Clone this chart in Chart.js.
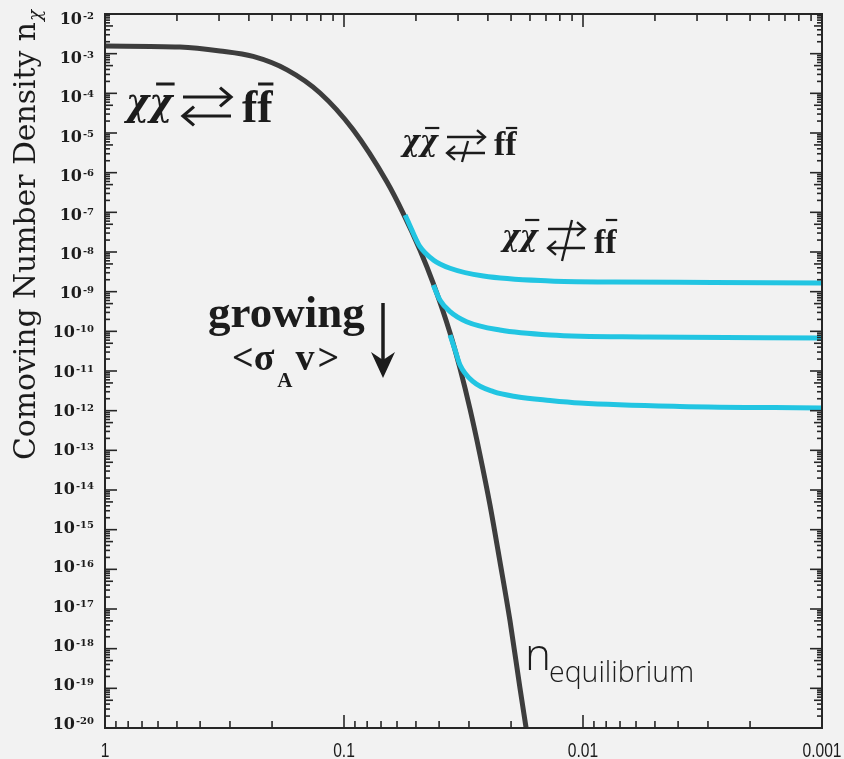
<!DOCTYPE html>
<html>
<head>
<meta charset="utf-8">
<script src="https://cdn.jsdelivr.net/npm/chart.js@4/dist/chart.umd.min.js"></script>
<style>
  html, body { margin: 0; padding: 0; background: #f2f2f2; }
  #wrap { width: 844px; height: 759px; }
</style>
</head>
<body>
<div id="wrap"><canvas id="c" width="844" height="759"></canvas></div>
<script>
// Horizontal axis: T/m, from 1 (left) down to 0.001 (right)
const xTickValues = [1, 0.1, 0.01, 0.001];
const xTickLabels = ['1', '0.1', '0.01', '0.001'];
// Vertical axis decades: 10^-2 ... 10^-20
const yExponents = [-2, -3, -4, -5, -6, -7, -8, -9, -10, -11, -12, -13, -14, -15, -16, -17, -18, -19, -20];

// Equilibrium number density
const eqX = [1.0, 0.486, 0.330, 0.240, 0.173, 0.126, 0.0917, 0.0661, 0.0566, 0.0481, 0.0424, 0.0360, 0.0327, 0.0297, 0.0270, 0.0245, 0.0223, 0.0202, 0.0184, 0.0173];
const eqY = [1.56e-3, 1.47e-3, 1.17e-3, 8.5e-4, 3.9e-4, 1.02e-4, 1.22e-5, 5.8e-7, 9.6e-8, 1.12e-8, 1.66e-9, 9.1e-11, 1.16e-11, 1.10e-12, 7.9e-14, 4.2e-15, 1.67e-16, 5.0e-18, 1.12e-19, 1.0e-20];

// Freeze-out curves for three annihilation cross sections
const fo1X = [0.0555, 0.0513, 0.0481, 0.0423, 0.0360, 0.0261, 0.01374, 0.00749, 0.00286, 0.001];
const fo1Y = [8.6e-8, 2.97e-8, 1.36e-8, 6.3e-9, 3.89e-9, 2.48e-9, 1.86e-9, 1.75e-9, 1.71e-9, 1.66e-9];
const fo2X = [0.0423, 0.0397, 0.0360, 0.0307, 0.0223, 0.01374, 0.0054, 0.001];
const fo2Y = [1.48e-9, 6.17e-10, 3.13e-10, 1.75e-10, 1.08e-10, 8.1e-11, 7.2e-11, 6.8e-11];
const fo3X = [0.0360, 0.0343, 0.0327, 0.0288, 0.0237, 0.01894, 0.01374, 0.0103, 0.00393, 0.001];
const fo3Y = [8.1e-11, 3.39e-11, 1.42e-11, 5.38e-12, 3.01e-12, 2.25e-12, 1.81e-12, 1.56e-12, 1.28e-12, 1.17e-12];

const INK = '#1c1c1c';
const CURVE = '#3d3d3d';
const CYAN = '#22c5e2';

const pts = (xs, ys) => xs.map((x, i) => ({ x: x, y: ys[i] }));

function seg(ctx, x1, y1, x2, y2) {
  ctx.beginPath(); ctx.moveTo(x1, y1); ctx.lineTo(x2, y2); ctx.stroke();
}

// χχ̄ ⇄ ff̄ with optional strike-through of one or both arrows
function reaction(ctx, o) {
  ctx.save();
  ctx.fillStyle = INK; ctx.strokeStyle = INK;
  ctx.textAlign = 'left'; ctx.textBaseline = 'alphabetic';
  ctx.font = 'italic bold ' + o.chiSize + 'px "DejaVu Serif"';
  const cw = ctx.measureText('χ').width * o.squeeze;
  ctx.save();
  ctx.translate(o.chiX, o.chiBase);
  ctx.scale(o.squeeze, 1);
  ctx.fillText('χ', 0, 0);
  ctx.fillText('χ', cw / o.squeeze, 0);
  ctx.restore();
  ctx.lineWidth = o.barW;
  seg(ctx, o.chiX + cw + cw * 0.3, o.barY, o.chiX + 2 * cw + cw * 0.1, o.barY);
  // arrows
  ctx.lineWidth = o.lw; ctx.lineCap = 'butt'; ctx.lineJoin = 'miter';
  seg(ctx, o.ax1, o.ayTop, o.ax2 - 1, o.ayTop);
  ctx.beginPath(); ctx.moveTo(o.ax2 - o.head, o.ayTop - o.head * 0.85); ctx.lineTo(o.ax2, o.ayTop); ctx.lineTo(o.ax2 - o.head, o.ayTop + o.head * 0.85); ctx.stroke();
  seg(ctx, o.ax1 + 1, o.ayBot, o.ax2, o.ayBot);
  ctx.beginPath(); ctx.moveTo(o.ax1 + o.head, o.ayBot - o.head * 0.85); ctx.lineTo(o.ax1, o.ayBot); ctx.lineTo(o.ax1 + o.head, o.ayBot + o.head * 0.85); ctx.stroke();
  if (o.cross) { seg(ctx, o.cross[0], o.cross[1], o.cross[2], o.cross[3]); }
  // f f̄
  ctx.font = 'bold ' + o.fSize + 'px "Liberation Serif"';
  const fw = ctx.measureText('f').width;
  ctx.fillText('ff', o.fX, o.fBase);
  ctx.lineWidth = o.barW;
  seg(ctx, o.fX + fw * 1.05, o.barY, o.fX + fw * 2.05, o.barY);
  ctx.restore();
}

const paper = {
  id: 'paper',
  beforeDraw(chart) {
    const ctx = chart.ctx;
    ctx.save();
    ctx.fillStyle = '#f2f2f2';
    ctx.fillRect(0, 0, chart.width, chart.height);
    ctx.restore();
  },
  afterDraw(chart) {
    const ctx = chart.ctx;
    const a = chart.chartArea;
    const xs = chart.scales.x, ys = chart.scales.y;
    ctx.save();
    ctx.strokeStyle = '#262626';
    ctx.fillStyle = INK;

    // frame
    ctx.lineWidth = 2;
    ctx.strokeRect(a.left, a.top, a.right - a.left, a.bottom - a.top);

    // bottom ticks: standard decade subdivisions
    ctx.lineWidth = 1.6;
    for (let n = 0; n >= -3; n--) {
      const base = Math.pow(10, n);
      const px = xs.getPixelForValue(base);
      seg(ctx, px, a.bottom, px, a.bottom - 13);
      if (n > -3) {
        for (let k = 2; k <= 9; k++) {
          const p = xs.getPixelForValue(k * base / 10);
          seg(ctx, p, a.bottom, p, a.bottom - 7);
        }
      }
    }
    // top ticks: reciprocal subdivisions 1/k of each decade
    for (let n = 0; n >= -3; n--) {
      const base = Math.pow(10, n);
      const px = xs.getPixelForValue(base);
      seg(ctx, px, a.top, px, a.top + 13);
      if (n > -3) {
        for (let k = 2; k <= 9; k++) {
          const p = xs.getPixelForValue(base / k);
          seg(ctx, p, a.top, p, a.top + 7);
        }
      }
    }
    // left and right ticks
    yExponents.forEach((e) => {
      const base = Math.pow(10, e);
      const py = ys.getPixelForValue(base);
      seg(ctx, a.left, py, a.left + 12, py);
      seg(ctx, a.right, py, a.right - 12, py);
      if (e > -20) {
        for (let k = 2; k <= 9; k++) {
          const p = ys.getPixelForValue(k * base / 10);
          const len = k === 5 ? 8 : 5;
          seg(ctx, a.left, p, a.left + len, p);
          seg(ctx, a.right, p, a.right - len, p);
        }
      }
    });

    // y tick labels 10^e
    ctx.textBaseline = 'alphabetic';
    yExponents.forEach((e, i) => {
      const py = ys.getPixelForValue(Math.pow(10, e)) + 4 - 9 * i / (yExponents.length - 1);
      ctx.font = 'bold 10px "DejaVu Serif"';
      const sup = '-' + Math.abs(e);
      const w2 = ctx.measureText(sup).width;
      ctx.font = 'bold 16px "DejaVu Serif"';
      const w1 = ctx.measureText('10').width;
      const xEnd = 94;
      ctx.textAlign = 'left';
      ctx.fillText('10', xEnd - w2 - 1 - w1, py + 6);
      ctx.font = 'bold 10px "DejaVu Serif"';
      ctx.fillText(sup, xEnd - w2, py + 1);
    });

    // x tick labels (condensed)
    xTickValues.forEach((v, i) => {
      const px = xs.getPixelForValue(v);
      ctx.save();
      ctx.translate(px, 757);
      ctx.scale(0.78, 1);
      ctx.font = '20px "Liberation Sans"';
      ctx.textAlign = 'center';
      ctx.fillText(xTickLabels[i], 0, 0);
      ctx.restore();
    });

    // y axis title
    ctx.save();
    ctx.translate(35, 460);
    ctx.rotate(-Math.PI / 2);
    ctx.textAlign = 'left';
    const title = 'Comoving Number Density n';
    ctx.font = '28px "DejaVu Serif"';
    const tw = ctx.measureText(title).width;
    const fs = 28 * 438 / tw;
    ctx.font = fs.toFixed(1) + 'px "DejaVu Serif"';
    ctx.fillText(title, 0, 0);
    const tw2 = ctx.measureText(title).width;
    ctx.font = 'italic ' + (fs * 0.62).toFixed(1) + 'px "DejaVu Serif"';
    ctx.fillText('χ', tw2 + 1, 6);
    ctx.restore();

    // reactions
    reaction(ctx, { chiX: 126, chiBase: 115, chiSize: 40, squeeze: 0.88, barY: 84, barW: 3,
      ax1: 183, ax2: 231, ayTop: 97, ayBot: 116, head: 11, lw: 3.2,
      fX: 242, fBase: 122, fSize: 46 });
    reaction(ctx, { chiX: 402, chiBase: 151, chiSize: 30, squeeze: 0.9, barY: 128, barW: 2.2,
      ax1: 447, ax2: 485, ayTop: 137, ayBot: 153, head: 8, lw: 2.3,
      cross: [468, 141, 462, 162],
      fX: 494, fBase: 155, fSize: 34 });
    reaction(ctx, { chiX: 502, chiBase: 246, chiSize: 30, squeeze: 0.9, barY: 220, barW: 2.2,
      ax1: 548, ax2: 585, ayTop: 229, ayBot: 248, head: 8, lw: 2.3,
      cross: [572, 220, 562, 261],
      fX: 594, fBase: 253, fSize: 34 });

    // growing <σA v> with arrow
    ctx.fillStyle = INK;
    ctx.textAlign = 'left';
    ctx.font = 'bold 45px "Liberation Serif"';
    ctx.fillText('growing', 208, 327);
    ctx.font = 'bold 38px "Liberation Serif"';
    ctx.fillText('<σ', 232, 370);
    const wl = ctx.measureText('<σ').width;
    ctx.font = 'bold 21px "Liberation Serif"';
    ctx.fillText('A', 232 + wl + 3, 387);
    const wa = ctx.measureText('A').width;
    ctx.font = 'bold 38px "Liberation Serif"';
    ctx.fillText('v', 232 + wl + wa + 6, 370);
    const wv = ctx.measureText('v').width;
    ctx.fillText('>', 232 + wl + wa + wv + 9, 370);
    ctx.strokeStyle = INK; ctx.lineWidth = 3.5;
    seg(ctx, 383, 303, 383, 360);
    ctx.beginPath();
    ctx.moveTo(383, 378); ctx.lineTo(371, 352); ctx.quadraticCurveTo(380, 358, 383, 360);
    ctx.quadraticCurveTo(386, 358, 395, 352); ctx.closePath(); ctx.fill();

    // n_equilibrium
    ctx.font = '300 44px "Open Sans"';
    ctx.fillText('n', 525, 670);
    const wn = ctx.measureText('n').width;
    ctx.font = '300 28.5px "Open Sans"';
    ctx.fillText('equilibrium', 525 + wn - 2, 682);

    ctx.restore();
  }
};

const lineStyle = { pointRadius: 0, borderWidth: 5, fill: false, cubicInterpolationMode: 'monotone', borderCapStyle: 'butt' };

new Chart(document.getElementById('c'), {
  type: 'line',
  data: {
    datasets: [
      Object.assign({ label: 'fo1', data: pts(fo1X, fo1Y), borderColor: CYAN }, lineStyle),
      Object.assign({ label: 'fo2', data: pts(fo2X, fo2Y), borderColor: CYAN }, lineStyle),
      Object.assign({ label: 'fo3', data: pts(fo3X, fo3Y), borderColor: CYAN }, lineStyle),
      Object.assign({ label: 'equilibrium', data: pts(eqX, eqY), borderColor: CURVE }, lineStyle)
    ]
  },
  options: {
    responsive: false,
    animation: false,
    devicePixelRatio: 1,
    layout: { padding: { top: 14, right: 22, left: 0, bottom: 0 } },
    plugins: { legend: { display: false }, tooltip: { enabled: false } },
    scales: {
      x: {
        type: 'logarithmic', reverse: true, min: 0.001, max: 1, position: 'bottom',
        ticks: { display: false }, grid: { display: false }, border: { display: false },
        afterFit: (s) => { s.height = 31; }
      },
      y: {
        type: 'logarithmic', min: 1e-20, max: 1e-2, position: 'left',
        ticks: { display: false }, grid: { display: false }, border: { display: false },
        afterFit: (s) => { s.width = 105; }
      }
    }
  },
  plugins: [paper]
});
</script>
</body>
</html>
